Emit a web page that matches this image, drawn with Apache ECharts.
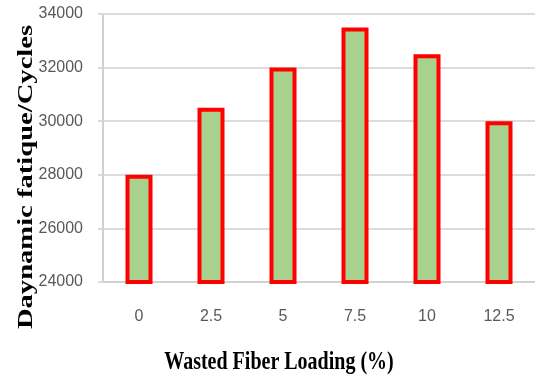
<!DOCTYPE html>
<html>
<head>
<meta charset="utf-8">
<script src="https://cdn.jsdelivr.net/npm/echarts@6/dist/echarts.min.js"></script>
<style>
  html, body { margin: 0; padding: 0; background: #fff; }
  #chart { width: 535px; height: 381px; }
</style>
</head>
<body>
<div id="chart"></div>
<script>
// Fiber loading levels (%) and the measured dynamic fatigue life (cycles)
const loadings = ['0', '2.5', '5', '7.5', '10', '12.5'];
const fatigueCycles = [28000, 30500, 32000, 33500, 32500, 30000];
const yTicks = { min: 24000, max: 34000, step: 2000 };
const xTitle = 'Wasted Fiber Loading (%)';
const yTitle = 'Daynamic fatique/Cycles';

const chart = echarts.init(document.getElementById('chart'), null, { renderer: 'canvas' });

const tickFont = { fontFamily: 'Liberation Sans, Arial, sans-serif', fontSize: 16, color: '#595959' };

chart.setOption({
  animation: false,
  backgroundColor: '#ffffff',
  grid: { left: 103, top: 14, width: 434, bottom: 99, containLabel: false },
  xAxis: {
    type: 'category',
    data: loadings,
    axisLine: { show: true, lineStyle: { color: '#d0d0d0', width: 2 } },
    axisTick: { show: false },
    axisLabel: Object.assign({ margin: 27 }, tickFont),
    splitLine: { show: false }
  },
  yAxis: {
    type: 'value',
    min: yTicks.min,
    max: yTicks.max,
    interval: yTicks.step,
    axisLine: { show: true, lineStyle: { color: '#d0d0d0', width: 2 } },
    axisTick: { show: true, length: 5, lineStyle: { color: '#d9d9d9', width: 2 } },
    axisLabel: Object.assign({ margin: 20, formatter: v => String(v) }, tickFont),
    splitLine: { show: true, lineStyle: { color: '#dcdcdc', width: 2 } }
  },
  series: [{
    type: 'bar',
    data: fatigueCycles,
    barWidth: 27,
    itemStyle: { color: '#a9d18e', borderColor: '#ff0000', borderWidth: 4 }
  }],
  graphic: [
    {
      type: 'text',
      x: 279, y: 362,
      scaleY: 1.3,
      style: {
        text: xTitle,
        font: 'bold 20px "Liberation Serif", "Times New Roman", serif',
        fill: '#000',
        align: 'center',
        verticalAlign: 'middle'
      }
    },
    {
      type: 'text',
      x: 26, y: 177,
      rotation: Math.PI / 2,
      scaleX: 1.3,
      style: {
        text: yTitle,
        font: 'bold 22px "Liberation Serif", "Times New Roman", serif',
        fill: '#000',
        align: 'center',
        verticalAlign: 'middle'
      }
    }
  ]
});
</script>
</body>
</html>
